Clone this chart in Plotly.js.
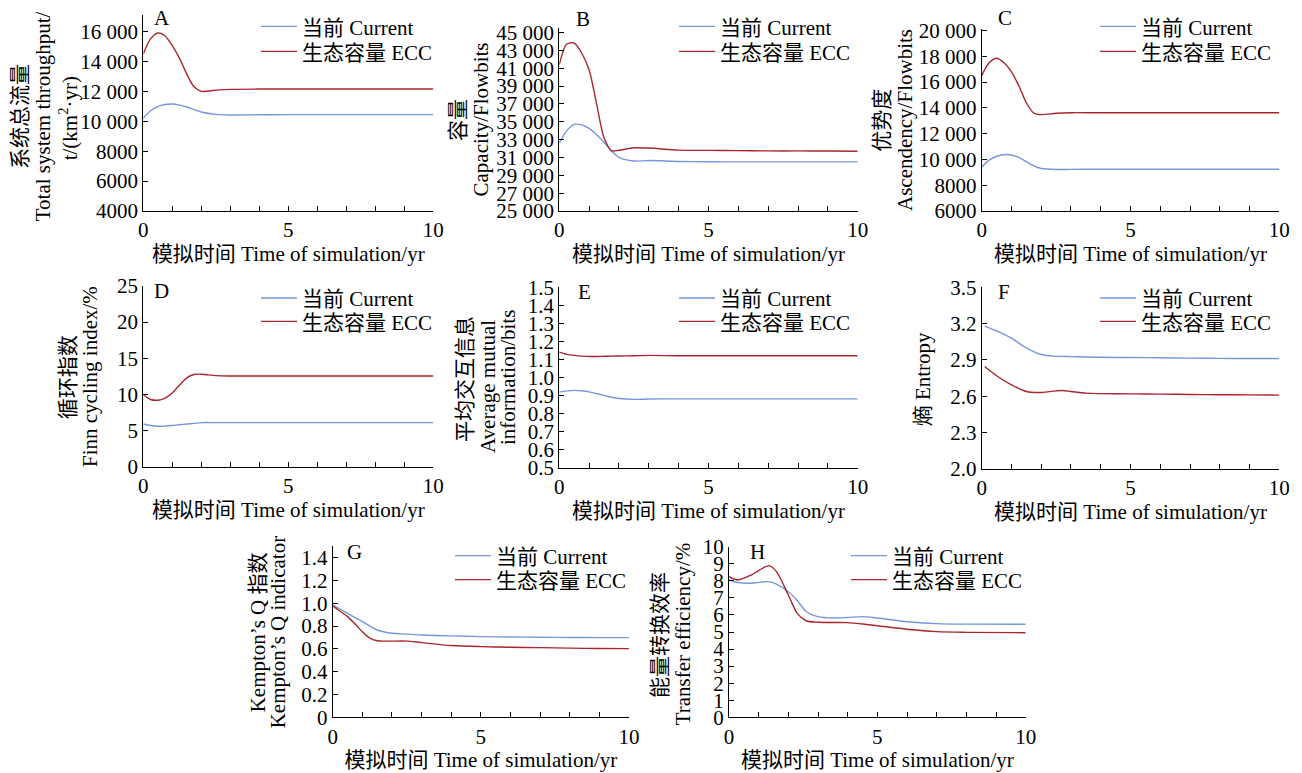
<!DOCTYPE html>
<html>
<head>
<meta charset="utf-8">
<script src="https://cdn.plot.ly/plotly-3.0.1.min.js"></script>
<style>html,body{margin:0;padding:0;background:#fff;}#chart{width:1302px;height:773px;}</style>
</head>
<body>
<div id="chart"></div>
<script>
// ---------- DATA ----------
var seriesNames = ["当前 Current", "生态容量 ECC"];
var xTitle = "模拟时间 Time of simulation/yr";
var panelLetters = ["A","B","C","D","E","F","G","H"];

var tGrid = [0, 0.25, 0.5, 0.75, 1, 1.25, 1.5, 1.75, 2, 2.5, 3, 4, 5, 6, 7, 8, 9, 10];

// A  Total system throughput
var aCurrent = [10200, 10700, 10980, 11120, 11150, 11080, 10950, 10780, 10620, 10460, 10420, 10430, 10440, 10440, 10440, 10440, 10440, 10440];
var aECC     = [14500, 15500, 15900, 15700, 15050, 14200, 13150, 12300, 12000, 12080, 12130, 12150, 12150, 12150, 12150, 12150, 12150, 12150];
var aTickVals = [4000, 6000, 8000, 10000, 12000, 14000, 16000];
var aTickText = ["4000", "6000", "8000", "10 000", "12 000", "14 000", "16 000"];

// B  Capacity
var bCurrent = [32600, 34000, 34700, 34650, 34250, 33550, 32700, 31700, 31000, 30600, 30650, 30550, 30520, 30500, 30500, 30500, 30500, 30500];
var bECC     = [41400, 43700, 43800, 42700, 40800, 37000, 33200, 31750, 31800, 32080, 32050, 31820, 31790, 31760, 31730, 31730, 31720, 31700];
var bTickVals = [25000, 27000, 29000, 31000, 33000, 35000, 37000, 39000, 41000, 43000, 45000];
var bTickText = ["25 000", "27 000", "29 000", "31 000", "33 000", "35 000", "37 000", "39 000", "41 000", "43 000", "45 000"];

// C  Ascendency
var cCurrent = [9400, 9950, 10250, 10370, 10350, 10150, 9830, 9500, 9300, 9220, 9230, 9240, 9240, 9240, 9240, 9240, 9240, 9240];
var cECC     = [16500, 17500, 17850, 17500, 16800, 15700, 14400, 13600, 13480, 13580, 13630, 13620, 13620, 13620, 13620, 13620, 13620, 13620];
var cTickVals = [6000, 8000, 10000, 12000, 14000, 16000, 18000, 20000];
var cTickText = ["6000", "8000", "10 000", "12 000", "14 000", "16 000", "18 000", "20 000"];

// D  Finn cycling index
var dCurrent = [5.9, 5.7, 5.6, 5.62, 5.7, 5.8, 5.9, 6.0, 6.1, 6.1, 6.1, 6.1, 6.1, 6.1, 6.1, 6.1, 6.1, 6.1];
var dECC     = [10.0, 9.3, 9.2, 9.5, 10.2, 11.3, 12.3, 12.75, 12.8, 12.6, 12.55, 12.55, 12.55, 12.55, 12.55, 12.55, 12.55, 12.55];
var dTickVals = [0, 5, 10, 15, 20, 25];
var dTickText = ["0", "5", "10", "15", "20", "25"];

// E  Average mutual information
var eCurrent = [0.918, 0.925, 0.928, 0.926, 0.92, 0.91, 0.9, 0.89, 0.883, 0.878, 0.88, 0.881, 0.881, 0.881, 0.881, 0.881, 0.881, 0.881];
var eECC     = [1.14, 1.128, 1.122, 1.118, 1.116, 1.116, 1.117, 1.118, 1.119, 1.12, 1.122, 1.12, 1.12, 1.12, 1.12, 1.12, 1.12, 1.12];
var eTickVals = [0.5, 0.6, 0.7, 0.8, 0.9, 1.0, 1.1, 1.2, 1.3, 1.4, 1.5];
var eTickText = ["0.5", "0.6", "0.7", "0.8", "0.9", "1.0", "1.1", "1.2", "1.3", "1.4", "1.5"];

// F  Entropy
var fTime    = [0.1, 0.5, 1, 1.5, 2, 2.5, 2.7, 3, 3.5, 4, 5, 6, 7, 8, 9, 10];
var fCurrent = [3.18, 3.14, 3.08, 3.0, 2.945, 2.93, 2.93, 2.928, 2.925, 2.922, 2.92, 2.918, 2.915, 2.913, 2.912, 2.912];
var fECC     = [2.846, 2.77, 2.695, 2.64, 2.632, 2.645, 2.648, 2.64, 2.626, 2.622, 2.62, 2.618, 2.615, 2.613, 2.612, 2.61];
var fTickVals = [2.0, 2.3, 2.6, 2.9, 3.2, 3.5];
var fTickText = ["2.0", "2.3", "2.6", "2.9", "3.2", "3.5"];

// G  Kempton's Q
var gCurrent = [0.985, 0.95, 0.912, 0.875, 0.84, 0.8, 0.766, 0.748, 0.737, 0.73, 0.722, 0.714, 0.708, 0.704, 0.702, 0.700, 0.699, 0.699];
var gECC     = [0.977, 0.93, 0.883, 0.82, 0.75, 0.695, 0.672, 0.668, 0.668, 0.668, 0.655, 0.63, 0.62, 0.615, 0.611, 0.607, 0.603, 0.602];
var gTickVals = [0, 0.2, 0.4, 0.6, 0.8, 1.0, 1.2, 1.4];
var gTickText = ["0", "0.2", "0.4", "0.6", "0.8", "1.0", "1.2", "1.4"];

// H  Transfer efficiency
var hTime    = [0, 0.3, 0.75, 1.0, 1.35, 1.6, 2, 2.3, 2.6, 3, 3.5, 4, 4.5, 5, 6, 7, 8, 10];
var hCurrent = [8.05, 7.9, 7.86, 7.91, 7.95, 7.8, 7.36, 6.85, 6.2, 5.9, 5.82, 5.85, 5.9, 5.82, 5.6, 5.49, 5.46, 5.45];
var hECC     = [8.24, 8.05, 8.34, 8.6, 8.89, 8.54, 7.17, 6.09, 5.66, 5.57, 5.56, 5.55, 5.47, 5.37, 5.16, 5.02, 4.98, 4.96];
var hTickVals = [0, 1, 2, 3, 4, 5, 6, 7, 8, 9, 10];
var hTickText = ["0", "1", "2", "3", "4", "5", "6", "7", "8", "9", "10"];

var yTitleLines = [
  ["系统总流量", "Total system throughput/", "t/(km<sup>2</sup>·yr)"],
  ["容量", "Capacity/Flowbits"],
  ["优势度", "Ascendency/Flowbits"],
  ["循环指数", "Finn cycling index/%"],
  ["平均交互信息", "Average mutual", "information/bits"],
  ["熵 Entropy"],
  ["Kempton’s Q 指数", "Kempton’s Q indicator"],
  ["能量转换效率", "Transfer efficiency/%"]
];

// ---------- LAYOUT (pixel geometry) ----------
var W = 1302, H = 773;
var FONT = "'Times New Roman', 'Liberation Serif', 'Noto Sans CJK SC', serif";
var FS = 21;
var BLUE = "#7896dc", RED = "#a8262e";

var panels = [
  {t: tGrid, c: aCurrent, e: aECC, tv: aTickVals, tt: aTickText, yr: [4000, 17100], px: [143.3, 433.3], py: [15, 211],
   leg: [256, 26.7, 51.7], yt: [[20, 117], [43.3, 116], [68.3, 118]], lt: [162, 18]},
  {t: tGrid, c: bCurrent, e: bECC, tv: bTickVals, tt: bTickText, yr: [25000, 45500], px: [559.3, 857.7], py: [28, 211],
   leg: [674, 26.7, 51.7], yt: [[458, 120], [480, 119.5]], lt: [583, 19]},
  {t: tGrid, c: cCurrent, e: cECC, tv: cTickVals, tt: cTickText, yr: [6000, 20100], px: [981.7, 1279.3], py: [29.3, 211],
   leg: [1095, 26.7, 51.7], yt: [[881.7, 120], [905, 120]], lt: [1005, 18]},
  {t: tGrid, c: dCurrent, e: dECC, tv: dTickVals, tt: dTickText, yr: [0, 25], px: [143.3, 433.3], py: [286, 466.7],
   leg: [256, 298.3, 321.7], yt: [[68.3, 377], [90, 377]], lt: [161, 291]},
  {t: tGrid, c: eCurrent, e: eECC, tv: eTickVals, tt: eTickText, yr: [0.5, 1.5], px: [559.3, 857.7], py: [287.3, 467.5],
   leg: [674, 298.3, 321.7], yt: [[465, 379], [488, 387], [508, 378]], lt: [584, 292]},
  {t: fTime, c: fCurrent, e: fECC, tv: fTickVals, tt: fTickText, yr: [2.0, 3.5], px: [981.7, 1279.3], py: [287.3, 469],
   leg: [1095, 298.3, 321.7], yt: [[923.3, 379]], lt: [1004, 292]},
  {t: tGrid, c: gCurrent, e: gECC, tv: gTickVals, tt: gTickText, yr: [0, 1.5], px: [332.7, 629], py: [546.3, 717.3],
   leg: [450, 556, 580], yt: [[258.3, 632], [278.3, 632]], lt: [354, 552]},
  {t: hTime, c: hCurrent, e: hECC, tv: hTickVals, tt: hTickText, yr: [0, 10], px: [729, 1025.7], py: [546.7, 717.3],
   leg: [846, 556, 580], yt: [[660, 635], [683.3, 634]], lt: [757, 552]}
];

var data = [];
var layout = {
  width: W, height: H,
  margin: {l: 0, r: 0, t: 0, b: 0},
  paper_bgcolor: "#fff", plot_bgcolor: "#fff",
  font: {family: FONT, size: FS, color: "#000"},
  annotations: []
};

function legendId(k) { return k === 1 ? "legend" : "legend" + k; }

panels.forEach(function (p, i) {
  var n = i === 0 ? "" : String(i + 1);
  var xa = "x" + n, ya = "y" + n;
  var legC = legendId(2 * i + 1), legE = legendId(2 * i + 2);
  data.push({x: p.t, y: p.c, type: "scatter", mode: "lines", name: seriesNames[0],
    line: {color: BLUE, width: 1.4, shape: "spline", smoothing: 0.8},
    xaxis: xa, yaxis: ya, legend: legC, showlegend: true, hoverinfo: "skip"});
  data.push({x: p.t, y: p.e, type: "scatter", mode: "lines", name: seriesNames[1],
    line: {color: RED, width: 1.4, shape: "spline", smoothing: 0.8},
    xaxis: xa, yaxis: ya, legend: legE, showlegend: true, hoverinfo: "skip"});

  layout["xaxis" + n] = {
    domain: [p.px[0] / W, p.px[1] / W], anchor: ya, range: [0, 10],
    tickvals: [0, 5, 10], ticktext: ["0", "5", "10"],
    ticks: "inside", ticklen: 5, tickwidth: 1, tickcolor: "#000",
    minor: {dtick: 1, tick0: 0, ticks: "inside", ticklen: 5, tickwidth: 1, tickcolor: "#000", showgrid: false},
    showline: true, linecolor: "#000", linewidth: 1, showgrid: false, zeroline: false,
    tickfont: {family: FONT, size: FS}, automargin: false, fixedrange: true,
    title: {text: xTitle, font: {family: FONT, size: FS}, standoff: 4}
  };
  layout["yaxis" + n] = {
    domain: [1 - p.py[1] / H, 1 - p.py[0] / H], anchor: xa, range: p.yr,
    tickvals: p.tv, ticktext: p.tt,
    ticks: "inside", ticklen: 5, tickwidth: 1, tickcolor: "#000",
    showline: true, linecolor: "#000", linewidth: 1, showgrid: false, zeroline: false,
    tickfont: {family: FONT, size: FS}, automargin: false, fixedrange: true, ticklabelstandoff: 0
  };
  [legC, legE].forEach(function (lg, k) {
    layout[lg] = {
      x: p.leg[0] / W, y: 1 - p.leg[1 + k] / H, xanchor: "left", yanchor: "middle",
      bgcolor: "rgba(0,0,0,0)", borderwidth: 0, font: {family: FONT, size: FS},
      itemwidth: 36, itemclick: false, itemdoubleclick: false
    };
  });
  yTitleLines[i].forEach(function (txt, k) {
    layout.annotations.push({
      text: txt, xref: "paper", yref: "paper", x: p.yt[k][0] / W, y: 1 - p.yt[k][1] / H,
      xanchor: "center", yanchor: "middle", textangle: -90, showarrow: false,
      font: {family: FONT, size: FS}
    });
  });
  layout.annotations.push({
    text: panelLetters[i], xref: "paper", yref: "paper", x: p.lt[0] / W, y: 1 - p.lt[1] / H,
    xanchor: "center", yanchor: "middle", showarrow: false,
    font: {family: FONT, size: FS}
  });
});

Plotly.newPlot("chart", data, layout, {staticPlot: true, displayModeBar: false});
</script>
</body>
</html>
